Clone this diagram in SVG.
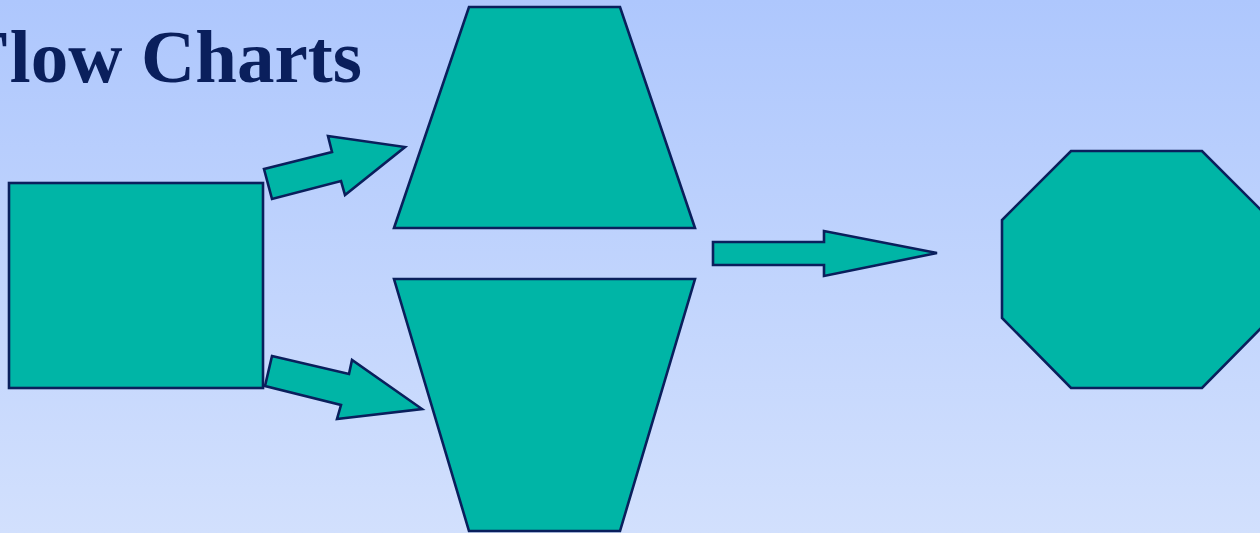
<svg xmlns="http://www.w3.org/2000/svg" width="1260" height="533" viewBox="0 0 1260 533">
<defs>
<linearGradient id="bg" x1="0" y1="0" x2="0" y2="1">
<stop offset="0" stop-color="#aec7fd"/>
<stop offset="1" stop-color="#d2e0fd"/>
</linearGradient>
<style>
.shape{fill:#00b5a6;stroke:#0a1f5c;stroke-width:2.6;stroke-linejoin:miter}
.title{font-family:"Liberation Serif",serif;font-weight:bold;font-size:75px;fill:#0a1f5c}
</style>
</defs>
<rect x="0" y="0" width="1260" height="533" fill="url(#bg)"/>
<text class="title" x="-36" y="82">Flow Charts</text>
<g id="start"><rect class="shape" x="9" y="183" width="254" height="205"/></g>
<g id="top-trapezoid"><polygon class="shape" points="469,7 620,7 695,228 394,228"/></g>
<g id="bottom-trapezoid"><polygon class="shape" points="394,279 695,279 620,531 469,531"/></g>
<g id="octagon"><polygon class="shape" points="1071,151 1202,151 1271,220 1271,318 1202,388 1071,388 1002,318 1002,220"/></g>
<g id="connectors">
<polygon class="shape" points="264,169 332,152 328,136 405,147 345,195 341,181 272,199"/>
<polygon class="shape" points="272,356 349,374 352,360 422,409 337,419 341,405 265,386"/>
<polygon class="shape" points="713,242 824,242 824,231 937,253 824,276 824,265 713,265"/>
</g>
</svg>
